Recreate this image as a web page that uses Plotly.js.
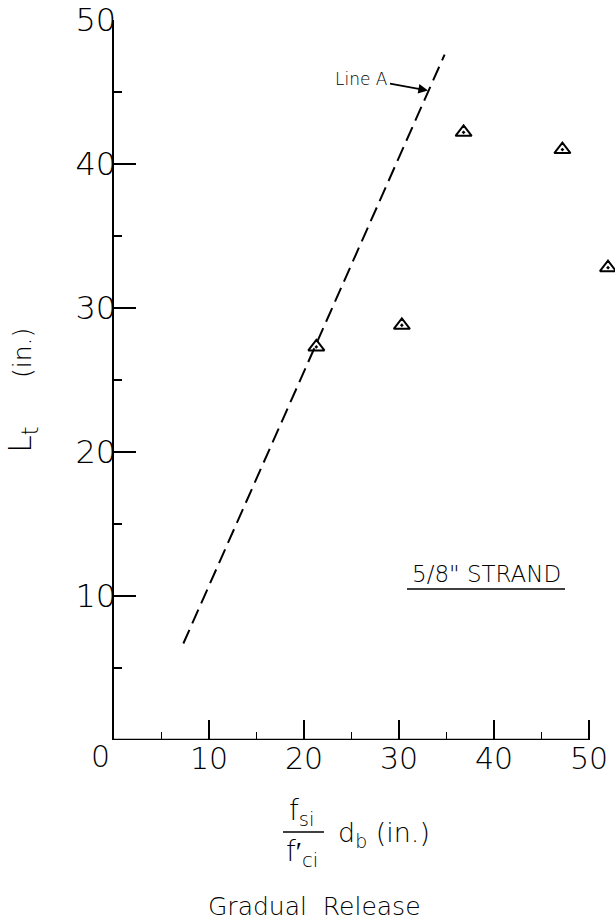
<!DOCTYPE html>
<html>
<head>
<meta charset="utf-8">
<script src="https://cdn.plot.ly/plotly-3.0.1.min.js"></script>
<style>html,body{margin:0;padding:0;background:#fff;}#chart{width:615px;height:922px;}</style>
</head>
<body>
<div id="chart"></div>
<script>
// ---- data ----
var pointsX = [21.3, 30.3, 36.8, 47.2, 52.0];
var pointsY = [27.3, 28.8, 42.2, 41.0, 32.8];
var lineAX = [7.3, 34.8];
var lineAY = [6.7, 47.6];
var xTickVals = [10, 20, 30, 40, 50];
var xTickText = ['10', '20', '30', '40', '50'];
var yTickVals = [10, 20, 30, 40, 50];
var yTickText = ['10', '20', '30', '40', '50'];
var minorTickVals = [5, 15, 25, 35, 45];
var xAxisEnd = 50;
var lineAArrowTip = [33.05, 45.1];

// ---- layout geometry ----
var W = 615, H = 922;
var M = {l: 114, r: 0, t: 20, b: 182};
var PW = W - M.l - M.r, PH = H - M.t - M.b;
var PX_PER_X = 9.5;
function px(p) { return (p - M.l) / PW; }
function py(p) { return (H - M.b - p) / PH; }

var FONT = 'DejaVu Sans';
var WT = 200;
function f(size) { return {family: FONT, size: size, color: '#000', weight: WT}; }

var traces = [
  {
    x: lineAX, y: lineAY, mode: 'lines', type: 'scatter',
    line: {color: '#000', width: 2, dash: '15px,7px'},
    hoverinfo: 'skip', showlegend: false
  },
  {
    x: pointsX, y: pointsY, mode: 'markers', type: 'scatter',
    cliponaxis: false,
    marker: {symbol: 'triangle-up-open-dot', size: 14, color: '#000', line: {color: '#000', width: 2}},
    showlegend: false
  }
];

var layout = {
  width: W, height: H,
  margin: M,
  paper_bgcolor: '#fff', plot_bgcolor: '#fff',
  font: f(14),
  showlegend: false,
  xaxis: {
    range: [0, PW / PX_PER_X], showgrid: false, zeroline: false,
    showline: false,
    tickmode: 'array', tickvals: xTickVals, ticktext: xTickText,
    ticks: 'inside', ticklen: 20, tickwidth: 1.2, tickcolor: '#000',
    ticklabelstandoff: -2,
    tickfont: f(30),
    minor: {tickmode: 'array', tickvals: minorTickVals, ticks: 'inside', ticklen: 8, tickwidth: 1.2, tickcolor: '#000', showgrid: false}
  },
  yaxis: {
    range: [0, 50], showgrid: false, zeroline: false,
    showline: true, linewidth: 2.5, linecolor: '#000',
    tickmode: 'array', tickvals: yTickVals, ticktext: yTickText,
    ticks: 'inside', ticklen: 22, tickwidth: 1.2, tickcolor: '#000',
    ticklabelstandoff: -11,
    tickfont: f(32),
    minor: {tickmode: 'array', tickvals: minorTickVals, ticks: 'inside', ticklen: 8, tickwidth: 1.2, tickcolor: '#000', showgrid: false}
  },
  shapes: [
    // x axis line (ends at 50)
    {type: 'line', xref: 'x', yref: 'y', x0: 0, x1: xAxisEnd, y0: 0, y1: 0, line: {color: '#000', width: 2.5}, layer: 'above'},
    // underline of strand label
    {type: 'line', xref: 'paper', yref: 'paper', x0: px(407), x1: px(565), y0: py(589), y1: py(589), line: {color: '#000', width: 1.5}},
    // fraction bar
    {type: 'line', xref: 'paper', yref: 'paper', x0: px(283), x1: px(324), y0: py(832), y1: py(832), line: {color: '#000', width: 1.5}}
  ],
  annotations: [
    {text: '0', xref: 'paper', yref: 'paper', x: px(100), y: py(757), showarrow: false, font: f(30), xanchor: 'center', yanchor: 'middle'},
    {text: 'Line A', xref: 'x', yref: 'y', x: lineAArrowTip[0], y: lineAArrowTip[1],
     ax: -66, ay: -12, showarrow: true, arrowhead: 2, arrowsize: 1.2, arrowwidth: 1.6, arrowcolor: '#000',
     font: f(17)},
    {text: '5/8" STRAND', xref: 'paper', yref: 'paper', x: px(486), y: py(574), showarrow: false, font: f(23), xanchor: 'center', yanchor: 'middle'},
    {text: 'L<sub>t</sub>', xref: 'paper', yref: 'paper', x: px(22), y: py(440), showarrow: false, textangle: -90, font: f(32), xanchor: 'center', yanchor: 'middle'},
    {text: '(in.)', xref: 'paper', yref: 'paper', x: px(22), y: py(353), showarrow: false, textangle: -90, font: f(25), xanchor: 'center', yanchor: 'middle'},
    {text: 'f<sub>si</sub>', xref: 'paper', yref: 'paper', x: px(302), y: py(812), showarrow: false, font: f(28), xanchor: 'center', yanchor: 'middle'},
    {text: 'f\u2032<sub>ci</sub>', xref: 'paper', yref: 'paper', x: px(302), y: py(853), showarrow: false, font: f(28), xanchor: 'center', yanchor: 'middle'},
    {text: 'd<sub>b</sub> (in.)', xref: 'paper', yref: 'paper', x: px(336), y: py(834), showarrow: false, font: f(27), xanchor: 'left', yanchor: 'middle'},
    {text: 'Gradual  Release', xref: 'paper', yref: 'paper', x: px(314), y: py(906), showarrow: false, font: f(25), xanchor: 'center', yanchor: 'middle'}
  ]
};

Plotly.newPlot('chart', traces, layout, {displayModeBar: false, staticPlot: true});
</script>
</body>
</html>
